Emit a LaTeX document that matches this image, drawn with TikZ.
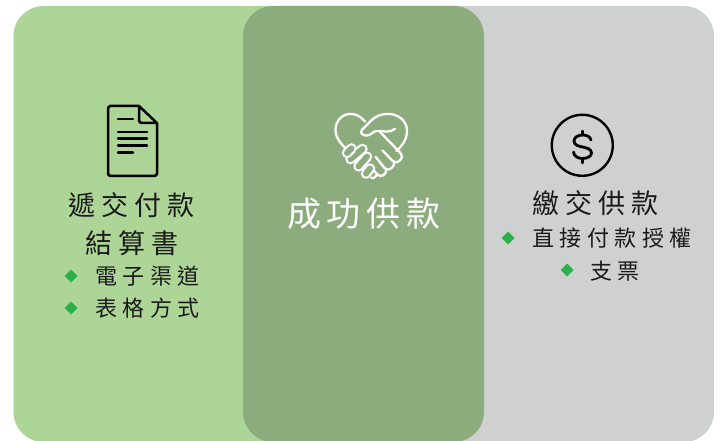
\documentclass[tikz,border=0pt]{standalone}
\usepackage{fontspec}
\newfontfamily\cjkhead[LetterSpace=23]{Noto Sans CJK TC}
\newfontfamily\cjksub[LetterSpace=25]{Noto Sans CJK TC}
\newfontfamily\cjkmid[LetterSpace=17]{Noto Sans CJK TC}
\definecolor{lgreen}{HTML}{AED598}
\definecolor{mgreen}{HTML}{8DAC7E}
\definecolor{lgray}{HTML}{CFD1D0}
\definecolor{dia}{HTML}{2BB14A}
\definecolor{ink}{HTML}{1A1A1A}
\tikzset{
  panel/.style={rounded corners=30pt,draw=none},
  head/.style={inner sep=0pt,anchor=west,text=ink,font=\cjkhead\fontsize{27}{27}\selectfont},
  sub/.style={inner sep=0pt,anchor=west,text=ink,font=\cjksub\fontsize{22}{22}\selectfont},
  mid/.style={inner sep=0pt,anchor=west,text=white,font=\cjkmid\fontsize{34}{34}\selectfont},
  bullet/.style={fill=dia,draw=none},
  iconb/.style={draw=black,line width=2.5pt,line cap=round,line join=round},
  iconw/.style={draw=white,line width=2.3pt,line cap=round,line join=round},
  capout/.style={draw=white,line width=10.4pt,line cap=round},
  capin/.style={draw=mgreen,line width=6pt,line cap=round}
}
\begin{document}
\begin{tikzpicture}[x=1pt,y=-1pt]
\useasboundingbox (0,0) rectangle (721,441);
\fill[white] (0,0) rectangle (721,441);
\begin{scope}
\clip (0,0) rectangle (721,441);
\fill[panel,lgray] (400,6) rectangle (714,442);
\fill[panel,lgreen] (13.5,6) rectangle (300,442);
\fill[panel,mgreen] (243,6) rectangle (484,442);
\end{scope}
% document icon
\draw[iconb] (139,106) -- (110,106) -- (108,108) -- (108,174) -- (110,176) -- (155,176) -- (157,174) -- (157,123) -- (139,106) -- (139,121) -- (141,123) -- (157,123);
\draw[iconb] (118,119) -- (133,119) (118,132) -- (147,132) (118,138.5) -- (147,138.5) (118,145.5) -- (147,145.5) (118,152.5) -- (133,152.5);
% dollar icon
\draw[draw=black,line width=2.4pt] (582.3,145.3) circle (30.5);
\draw[draw=black,line width=2.8pt,line cap=round,line join=round] (591,140) .. controls (590,136) and (586,135) .. (582.5,135) .. controls (577,135) and (574,138) .. (574,141) .. controls (574,145) and (578,146) .. (582.5,147) .. controls (587,148) and (591.5,149) .. (591.5,153) .. controls (591.5,156.5) and (587,158.5) .. (582.5,158.5) .. controls (578,158.5) and (574,156.5) .. (573.5,152);
\draw[draw=black,line width=2.8pt,line cap=round] (582.5,131) -- (582.5,135) (582.5,158.5) -- (582.5,163);
% handshake icon
\begin{scope}[shift={(1.5,-3)},yscale=1.03]
\draw[iconw] (363.5,121) .. controls (359,116) and (355,113.5) .. (349,113.5) .. controls (341,113.5) and (334,120) .. (334,129) .. controls (334,137) and (340,143) .. (345.5,148.5);
\draw[iconw] (395,149.5) .. controls (400,145) and (405.5,139) .. (405.5,129.5) .. controls (405.5,120) and (396,113.5) .. (387,113.5) .. controls (380,113.5) and (375,115) .. (369,120.5) -- (360.5,129) .. controls (358,132) and (361,134.5) .. (365,134.5) .. controls (370,134.5) and (371,130) .. (376,130) .. controls (382,130) and (388,132.5) .. (393.5,128);
\draw[iconw] (378.5,131) -- (398.5,151) .. controls (401,154) and (401,156.5) .. (398,159) .. controls (395.5,161) and (393,161) .. (391,159) -- (381,149);
\draw[iconw] (392.5,160.5) .. controls (393,163) and (392,164.5) .. (390,166) .. controls (387.5,168) and (385,168) .. (383,166) -- (374,155);
\draw[iconw] (384.5,167.5) .. controls (385,170) and (384,171.5) .. (382,173) .. controls (379.5,174.5) and (377.5,174) .. (375.5,172) -- (370,165.5);
\draw[iconw] (375.5,172) .. controls (375,174) and (372,177) .. (369.5,175.5);
\draw[capout] (364.5,171.5) -- (368.5,166.5);
\draw[capin] (364.5,171.5) -- (368.5,166.5);
\draw[capout] (357,164.5) -- (365.5,155);
\draw[capin] (357,164.5) -- (365.5,155);
\draw[capout] (349,157.5) -- (361,147.5);
\draw[capin] (349,157.5) -- (361,147.5);
\draw[capout] (345.5,151.5) -- (350,147);
\draw[capin] (345.5,151.5) -- (350,147);
\end{scope}
% text
\node[head] (a1) at (68,205) {遞交付款};
\node[head] (a2) at (85,243) {結算書};
\node[sub] (a3) at (95,276) {電子渠道};
\node[sub] (a4) at (95,308) {表格方式};
\node[mid] (c1) at (287,214) {成功供款};
\node[head] (r1) at (532,203) {繳交供款};
\node[sub] (r2) at (532,238) {直接付款授權};
\node[sub] (r3) at (590,271) {支票};
% bullets
\foreach \p in {(71,276),(71,308),(508,238),(567,270)}{
  \fill[bullet] \p ++(-6.5,0) -- ++(6.5,-6.5) -- ++(6.5,6.5) -- ++(-6.5,6.5) -- cycle;
}
\end{tikzpicture}
\end{document}
